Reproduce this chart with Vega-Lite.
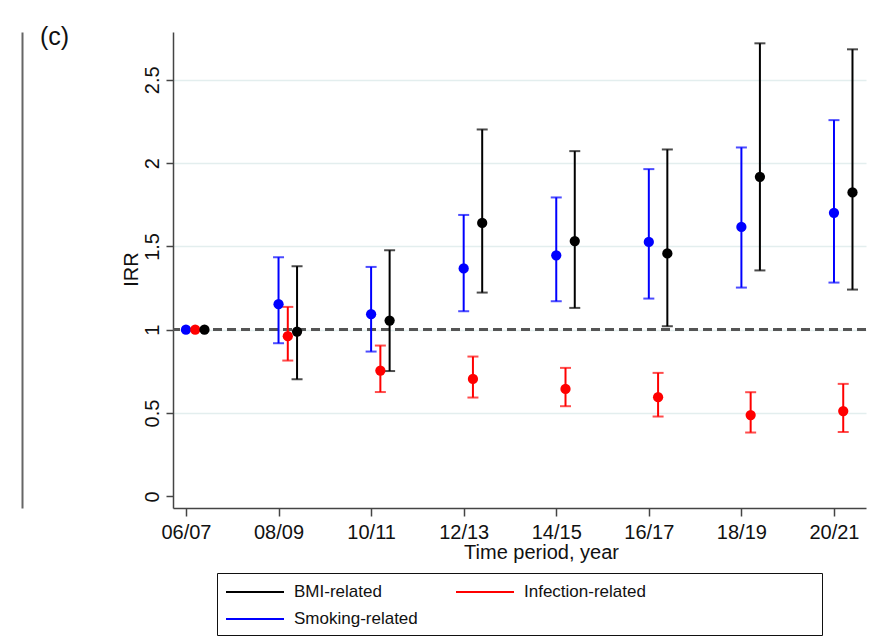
{
  "$schema": "https://vega.github.io/schema/vega-lite/v6.json",
  "width": 693,
  "height": 476,
  "autosize": {"type": "none"},
  "padding": {"left": 173, "top": 32, "right": 6, "bottom": 130},
  "background": "white",
  "title": {"text": "(c)", "anchor": "start", "frame": "group", "orient": "top", "offset": 0, "dx": -133, "dy": 38, "baseline": "alphabetic", "fontSize": 25, "fontWeight": "normal", "font": "Liberation Sans", "color": "#111"},
  "config": {
    "view": {"stroke": null},
    "axis": {"labelFont": "Liberation Sans", "titleFont": "Liberation Sans", "labelColor": "#111", "titleColor": "#111", "titleFontWeight": "normal", "domainColor": "#444", "domainWidth": 1.5, "tickColor": "#444", "tickWidth": 1.5}
  },
  "datasets": {
    "irr": [
      {"t": 0, "period": "06/07", "series": "Smoking-related", "irr": 1.0, "lo": null, "hi": null},
      {"t": 1, "period": "08/09", "series": "Smoking-related", "irr": 1.153, "lo": 0.919, "hi": 1.435},
      {"t": 2, "period": "10/11", "series": "Smoking-related", "irr": 1.093, "lo": 0.869, "hi": 1.377},
      {"t": 3, "period": "12/13", "series": "Smoking-related", "irr": 1.368, "lo": 1.111, "hi": 1.689},
      {"t": 4, "period": "14/15", "series": "Smoking-related", "irr": 1.447, "lo": 1.171, "hi": 1.794},
      {"t": 5, "period": "16/17", "series": "Smoking-related", "irr": 1.527, "lo": 1.187, "hi": 1.964},
      {"t": 6, "period": "18/19", "series": "Smoking-related", "irr": 1.617, "lo": 1.253, "hi": 2.094},
      {"t": 7, "period": "20/21", "series": "Smoking-related", "irr": 1.702, "lo": 1.283, "hi": 2.258},
      {"t": 0, "period": "06/07", "series": "Infection-related", "irr": 1.0, "lo": null, "hi": null},
      {"t": 1, "period": "08/09", "series": "Infection-related", "irr": 0.961, "lo": 0.815, "hi": 1.137},
      {"t": 2, "period": "10/11", "series": "Infection-related", "irr": 0.755, "lo": 0.626, "hi": 0.905},
      {"t": 3, "period": "12/13", "series": "Infection-related", "irr": 0.705, "lo": 0.593, "hi": 0.839},
      {"t": 4, "period": "14/15", "series": "Infection-related", "irr": 0.645, "lo": 0.541, "hi": 0.771},
      {"t": 5, "period": "16/17", "series": "Infection-related", "irr": 0.595, "lo": 0.479, "hi": 0.741},
      {"t": 6, "period": "18/19", "series": "Infection-related", "irr": 0.488, "lo": 0.383, "hi": 0.625},
      {"t": 7, "period": "20/21", "series": "Infection-related", "irr": 0.512, "lo": 0.386, "hi": 0.675},
      {"t": 0, "period": "06/07", "series": "BMI-related", "irr": 1.0, "lo": null, "hi": null},
      {"t": 1, "period": "08/09", "series": "BMI-related", "irr": 0.989, "lo": 0.703, "hi": 1.381},
      {"t": 2, "period": "10/11", "series": "BMI-related", "irr": 1.055, "lo": 0.752, "hi": 1.477},
      {"t": 3, "period": "12/13", "series": "BMI-related", "irr": 1.641, "lo": 1.223, "hi": 2.202},
      {"t": 4, "period": "14/15", "series": "BMI-related", "irr": 1.532, "lo": 1.131, "hi": 2.072},
      {"t": 5, "period": "16/17", "series": "BMI-related", "irr": 1.458, "lo": 1.021, "hi": 2.082},
      {"t": 6, "period": "18/19", "series": "BMI-related", "irr": 1.918, "lo": 1.356, "hi": 2.719},
      {"t": 7, "period": "20/21", "series": "BMI-related", "irr": 1.824, "lo": 1.241, "hi": 2.683}
    ]
  },
  "data": {"name": "irr"},
  "transform": [
    {"calculate": "datum.t + (datum.series == 'Infection-related' ? 0.1 : datum.series == 'BMI-related' ? 0.2 : 0)", "as": "xpos"}
  ],
  "resolve": {"scale": {"y": "independent"}, "axis": {"y": "independent"}},
  "layer": [
    {
      "encoding": {
        "x": {"field": "xpos", "type": "quantitative",
          "scale": {"domain": [-0.14, 7.346], "nice": false, "zero": false},
          "axis": {"values": [0, 1, 2, 3, 4, 5, 6, 7], "grid": false, "labelExpr": "['06/07','08/09','10/11','12/13','14/15','16/17','18/19','20/21'][datum.value]", "labelFontSize": 20, "tickSize": 8, "labelPadding": 6, "title": "Time period, year", "titleFontSize": 20, "titleX": 368, "titleY": 50, "titleBaseline": "alphabetic", "titleAlign": "center"}
        }
      },
      "layer": [
        {
          "mark": {"type": "rule", "strokeDash": [9, 5], "color": "#555", "strokeWidth": 2},
          "encoding": {"y": {"datum": 1, "type": "quantitative", "scale": {"domain": [-0.07, 2.787], "nice": false, "zero": false},
            "axis": {"values": [0, 0.5, 1, 1.5, 2, 2.5], "labelExpr": "format(datum.value, '~g')", "labelAngle": -90, "labelAlign": "center", "labelBaseline": "alphabetic", "labelFontSize": 20, "labelPadding": 8, "tickSize": 7, "grid": true, "gridColor": {"condition": {"test": "datum.value == 0", "value": "transparent"}, "value": "#e3eeee"}, "gridWidth": 1.5, "title": "IRR", "titleFontSize": 20, "titleAngle": -90, "titleX": -36, "titleY": 237, "titleBaseline": "alphabetic", "titleAlign": "center"}},
            "x": null}
        },
        {
          "mark": {"type": "rule", "strokeWidth": 2},
          "encoding": {
            "y": {"field": "lo", "type": "quantitative"},
            "y2": {"field": "hi"},
            "color": {"field": "series", "type": "nominal",
              "scale": {"domain": ["BMI-related", "Infection-related", "Smoking-related"], "range": ["#000000", "#ff0000", "#0000ff"]},
              "legend": {"orient": "none", "legendX": 44, "legendY": 541, "direction": "horizontal", "columns": 2, "title": null, "symbolType": "M-1,0H4.8", "symbolSize": 400, "symbolStrokeWidth": 2, "labelFont": "Liberation Sans", "labelFontSize": 17, "labelColor": "#111", "labelOffset": 47, "labelLimit": 600, "columnPadding": 34, "rowPadding": 8, "padding": 8, "strokeColor": "#111", "labelExpr": "datum.label == 'Infection-related' ? datum.label + '\u2800\u2800\u2800\u2800\u2800\u2800\u2800\u2800\u2800\u2800\u2800\u2800\u2800\u2800' : datum.label"}
            }
          }
        },
        {
          "mark": {"type": "tick", "orient": "horizontal", "size": 11, "thickness": 2},
          "encoding": {"y": {"field": "lo", "type": "quantitative"}, "color": {"field": "series", "type": "nominal", "legend": null}}
        },
        {
          "mark": {"type": "tick", "orient": "horizontal", "size": 11, "thickness": 2},
          "encoding": {"y": {"field": "hi", "type": "quantitative"}, "color": {"field": "series", "type": "nominal", "legend": null}}
        },
        {
          "mark": {"type": "point", "filled": true, "opacity": 1, "size": 105},
          "encoding": {"y": {"field": "irr", "type": "quantitative"}, "color": {"field": "series", "type": "nominal", "legend": null}}
        }
      ]
    },
    {
      "mark": {"type": "point", "opacity": 0},
      "encoding": {
        "x": {"field": "xpos", "type": "quantitative"},
        "y": {"field": "irr", "type": "quantitative", "scale": {"domain": [-0.07, 2.787], "nice": false, "zero": false},
          "axis": {"orient": "left", "offset": 151, "labels": false, "ticks": false, "grid": false, "title": null, "domainColor": "#666", "domainWidth": 2}}
      }
    }
  ]
}
